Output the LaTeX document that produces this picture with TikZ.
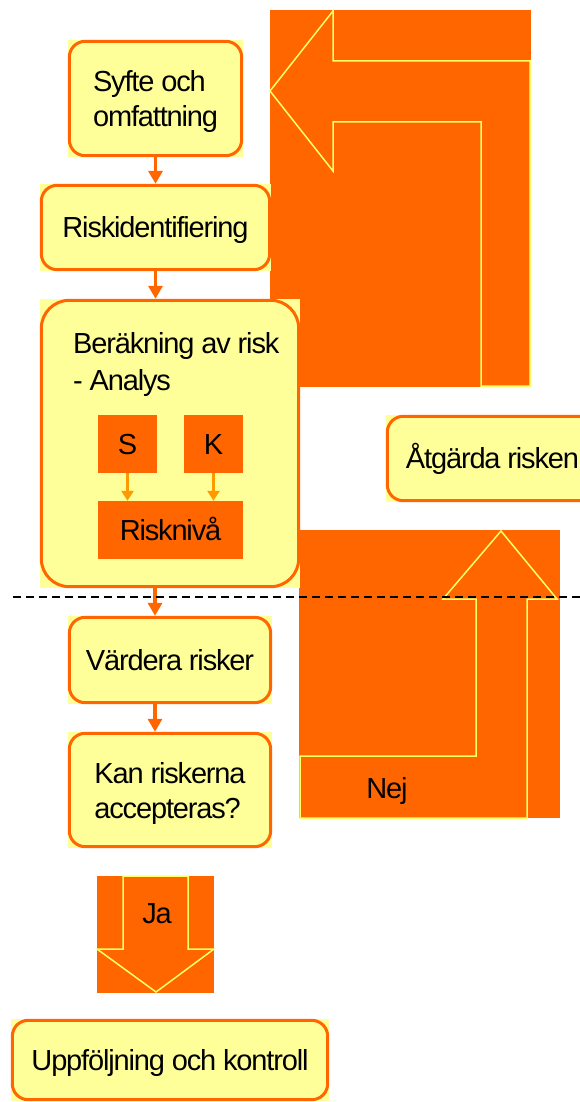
\documentclass[tikz,border=0pt]{standalone}
\usepackage{fontspec}
\setmainfont{Liberation Sans}[LetterSpace=-4]
\usetikzlibrary{arrows.meta}
\definecolor{org}{HTML}{FF6600}
\definecolor{yel}{HTML}{FFFF99}
\definecolor{lyel}{HTML}{FFFF66}
\definecolor{amb}{HTML}{FF9900}
\begin{document}
\begin{tikzpicture}[x=1pt,y=-1pt,
  txt/.style={font=\fontsize{29pt}{35.5pt}\selectfont, text=black},
  ybox/.style={txt, fill=yel, draw=none, inner sep=0pt, align=left},
  one/.style={text height=21pt, text depth=1pt},
  two/.style={text height=57pt, text depth=0pt},
  border/.style={draw=org, line width=3pt, rounded corners=16pt},
  obox/.style={txt, fill=org, inner sep=0pt, text height=21pt, text depth=-6pt},
  flow/.style={draw=org, line width=3.5pt, -{Triangle[length=13pt,width=14pt]}},
  small/.style={draw=amb, line width=2.5pt, -{Triangle[length=10pt,width=12pt]}},
  bent/.style={fill=org, draw=lyel, line width=1.5pt, line join=miter},
]
\useasboundingbox (0,0) rectangle (580,1102);
\clip (0,0) rectangle (580,1102);

% big orange bent arrows
\fill[org] (270,10) rectangle (531,387);
\draw[bent] (530,386) -- (530,61) -- (333,61) -- (333,11) -- (270,91) -- (333,171) -- (333,122) -- (481,122) -- (481,386) -- cycle;
\fill[org] (299,530) rectangle (560,818);
\draw[bent] (300,756) -- (476,756) -- (476,599) -- (443,599) -- (501,531) -- (557,599) -- (527,599) -- (527,818) -- (300,818) -- cycle;
\fill[org] (97,876) rectangle (214,993);
\draw[bent] (123,876) -- (188,876) -- (188,949) -- (214,949) -- (156,992) -- (97,949) -- (123,949) -- cycle;
\node[txt, anchor=base] (ja) at (157,923) {Ja};
\node[txt, anchor=base] (nej) at (387,798) {Nej};

% boxes
\node[ybox, two, minimum width=175pt, minimum height=117pt] (syfte) at (155.5,98.5) {Syfte och\\omfattning};
\node[ybox, one, minimum width=231pt, minimum height=87pt] (riskid) at (155.5,227.5) {Riskidentifiering};
\node[ybox, minimum width=260pt, minimum height=289pt] (berak) at (170,443.5) {};
\node[ybox, one, minimum width=204pt, minimum height=88pt] (vardera) at (170,660) {Värdera risker};
\node[ybox, two, minimum width=204pt, minimum height=116pt] (kan) at (170,790) {Kan riskerna\\accepteras?};
\node[ybox, one, minimum width=318pt, minimum height=82pt] (uppf) at (170,1060) {Uppföljning och kontroll};
\node[ybox, one, minimum width=213pt, minimum height=87pt] (atg) at (492.5,458.5) {Åtgärda risken};

\foreach \n in {syfte,riskid,vardera,kan,uppf,atg}
  \draw[border] ([shift={(1.5pt,-1.5pt)}]\n.north west) rectangle ([shift={(-1.5pt,1.5pt)}]\n.south east);
\draw[border, rounded corners=28pt] ([shift={(1.5pt,-1.5pt)}]berak.north west) rectangle ([shift={(-1.5pt,1.5pt)}]berak.south east);

\node[txt, anchor=base west, align=left, inner sep=0pt, font=\fontsize{29pt}{37pt}\selectfont] (beraktitle) at (73,390) {Beräkning av risk\\- Analys};
\node[obox, minimum width=59pt, minimum height=58pt] (S) at (127.5,444) {S};
\node[obox, minimum width=59pt, minimum height=58pt] (K) at (213.5,444) {K};
\node[obox, minimum width=145pt, minimum height=58pt] (risk) at (170.5,530) {Risknivå};
\draw[small] (S.south) -- (S.south |- risk.north);
\draw[small] (K.south) -- (K.south |- risk.north);

% flow arrows
\coordinate (ax) at (155,0);
\draw[flow] (syfte.south) -- (riskid.north);
\draw[flow] (riskid.south) -- (riskid.south |- berak.north);
\draw[flow] (ax |- berak.south) -- (ax |- vardera.north);
\draw[flow] (ax |- vardera.south) -- (ax |- kan.north);

% dashed line
\coordinate (dl) at (13,597);
\coordinate (dr) at (580,597);
\draw[black, line width=1.5pt, dash pattern=on 8pt off 5pt] (dl) -- (dr);
\end{tikzpicture}
\end{document}
